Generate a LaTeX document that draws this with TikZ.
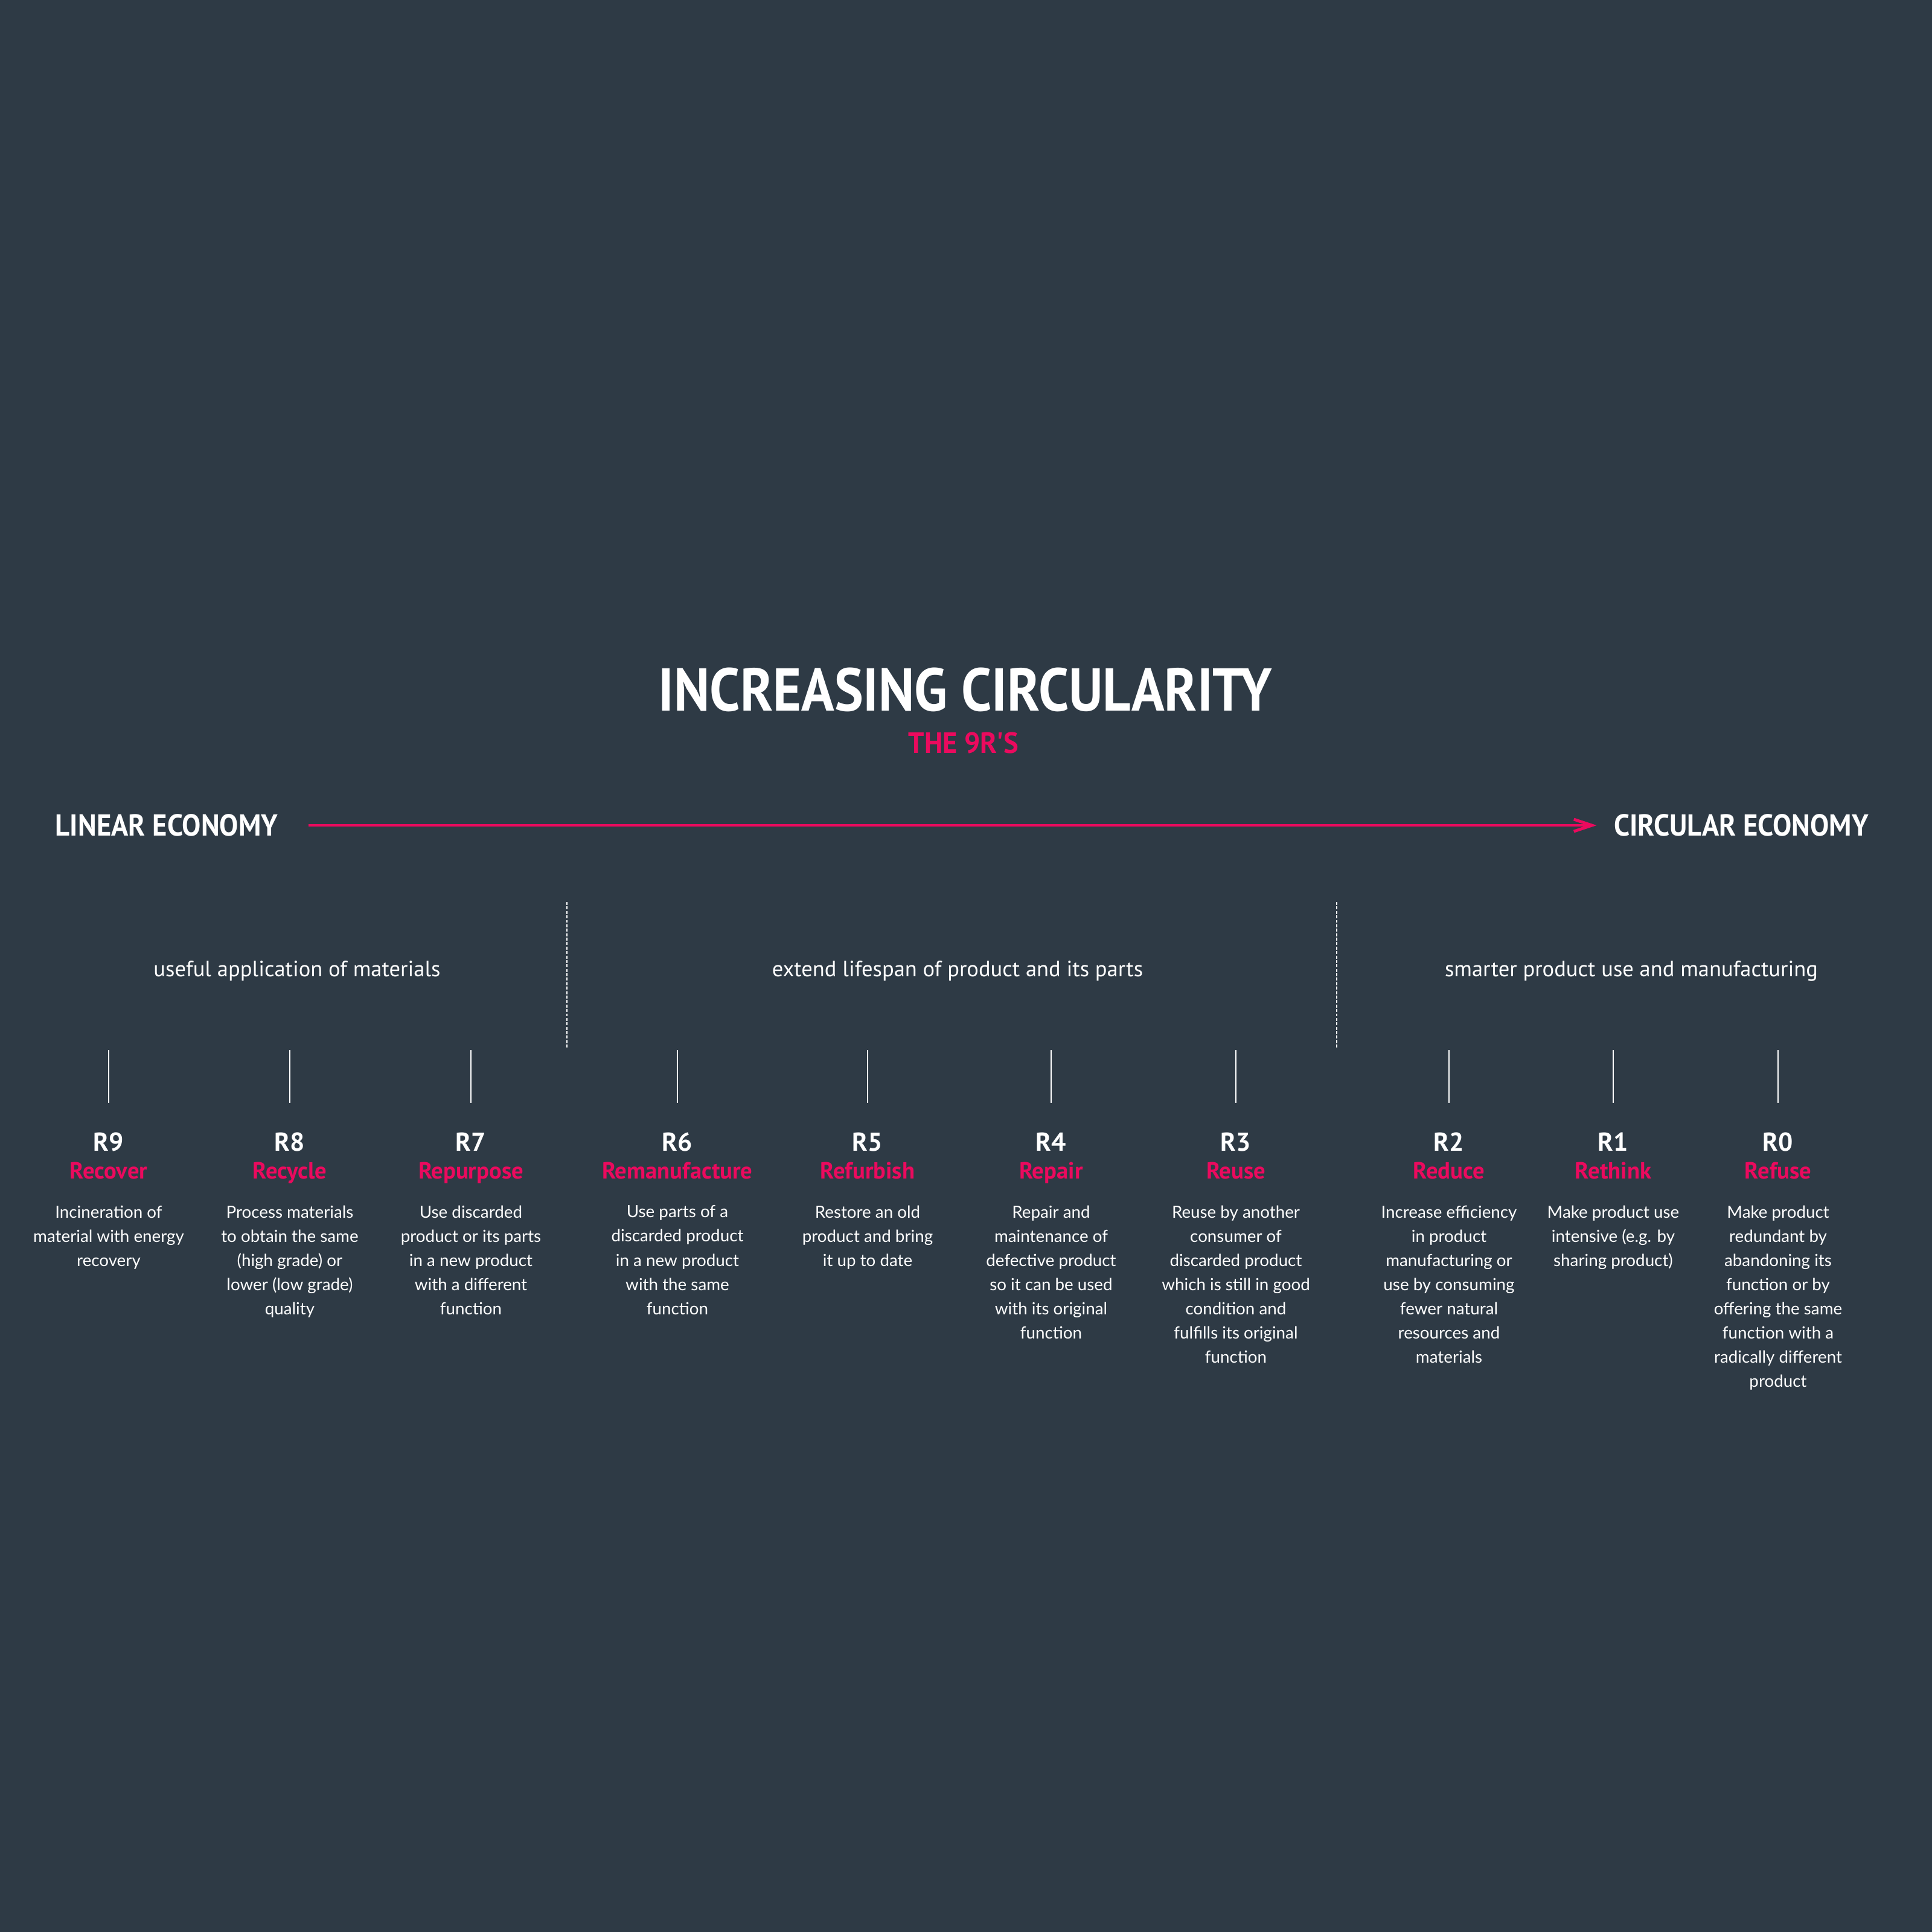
\documentclass[tikz,border=0pt]{standalone}
\usepackage{fontspec}
\setmainfont{Lato}
\newfontfamily\handfont{PT Sans}
\usetikzlibrary{arrows.meta}
\definecolor{slate}{HTML}{2E3A45}
\definecolor{rpink}{HTML}{EB0A5E}

\tikzset{
  headline/.style={text=white,inner sep=0pt,font=\handfont\bfseries\fontsize{28.5}{30}\selectfont,xscale=0.90},
  subline/.style={text=rpink,inner sep=0pt,font=\handfont\bfseries\fontsize{13.8}{15}\selectfont,xscale=0.96},
  economy/.style={text=white,inner sep=0pt,font=\handfont\bfseries\fontsize{14.3}{15}\selectfont,xscale=0.93},
  group/.style={text=white,inner sep=0pt,font=\handfont\fontsize{10.4}{12}\selectfont},
  rlabel/.style={text=white,inner sep=0pt,anchor=base,font=\handfont\bfseries\fontsize{12.2}{13}\selectfont},
  rname/.style={text=rpink,inner sep=0pt,anchor=base,font=\handfont\bfseries\fontsize{11}{12}\selectfont},
  rdesc/.style={text=white,inner sep=0pt,anchor=north,align=center,font=\fontsize{7.9}{11.4}\selectfont},
  tick/.style={white,line width=0.6pt},
  divider/.style={white,line width=0.8pt,dash pattern=on 1.4pt off 0.7pt}
}

\begin{document}
\begin{tikzpicture}
  \fill[slate] (0,0) rectangle (32,-32);

  % title
  \node[headline] (title) at (15.99,-11.42) {INCREASING CIRCULARITY};
  \node[subline] (sub) at (15.96,-12.30) {THE 9R'S};

  % linear -> circular
  \node[economy] (linear) at (2.76,-13.67) {LINEAR ECONOMY};
  \node[economy] (circular) at (28.84,-13.67) {CIRCULAR ECONOMY};
  \draw[rpink,line width=1.4pt,-{Straight Barb[length=3mm,width=2mm]},shorten <=0.5cm,shorten >=0.28cm]
    (linear.east) -- (circular.west);

  % groups
  \coordinate (d1top) at (9.39,-14.94);
  \coordinate (d1bot) at (9.39,-17.37);
  \coordinate (d2top) at (22.14,-14.94);
  \coordinate (d2bot) at (22.14,-17.37);
  \draw[divider] (d1top) -- (d1bot);
  \draw[divider] (d2top) -- (d2bot);
  \node[group] (materials) at (4.92,-16.08) {useful application of materials};
  \node[group] (lifespan) at (15.86,-16.08) {extend lifespan of product and its parts};
  \node[group] (smarter) at (27.02,-16.08) {smarter product use and manufacturing};

  % the nine (ten) R's
  \foreach \x/\r/\name/\desc in {%
      1.80/9/Recover/{Incineration of\\material with energy\\recovery},
      4.80/8/Recycle/{Process materials\\to obtain the same\\(high grade) or\\lower (low grade)\\quality},
      7.80/7/Repurpose/{Use discarded\\product or its parts\\in a new product\\with a different\\function},
      11.22/6/Remanufacture/{Use parts of a\\discarded product\\in a new product\\with the same\\function},
      14.37/5/Refurbish/{Restore an old\\product and bring\\it up to date},
      17.41/4/Repair/{Repair and\\maintenance of\\defective product\\so it can be used\\with its original\\function},
      20.47/3/Reuse/{Reuse by another\\consumer of\\discarded product\\which is still in good\\condition and\\fulfills its original\\function},
      24.00/2/Reduce/{Increase efficiency\\in product\\manufacturing or\\use by consuming\\fewer natural\\resources and\\materials},
      26.72/1/Rethink/{Make product use\\intensive (e.g. by\\sharing product)},
      29.45/0/Refuse/{Make product\\redundant by\\abandoning its\\function or by\\offering the same\\function with a\\radically different\\product}}{
    \coordinate (t\r) at (\x,-17.39);
    \coordinate (b\r) at (\x,-18.27);
    \draw[tick] (t\r) -- (b\r);
    \node[rlabel] (r\r) at (\x,-19.06) {R\r};
    \node[rname] (n\r) at (\x,-19.52) {\name};
    \node[rdesc] (d\r) at (\x,-19.96) {\desc};
  }
\end{tikzpicture}
\end{document}
